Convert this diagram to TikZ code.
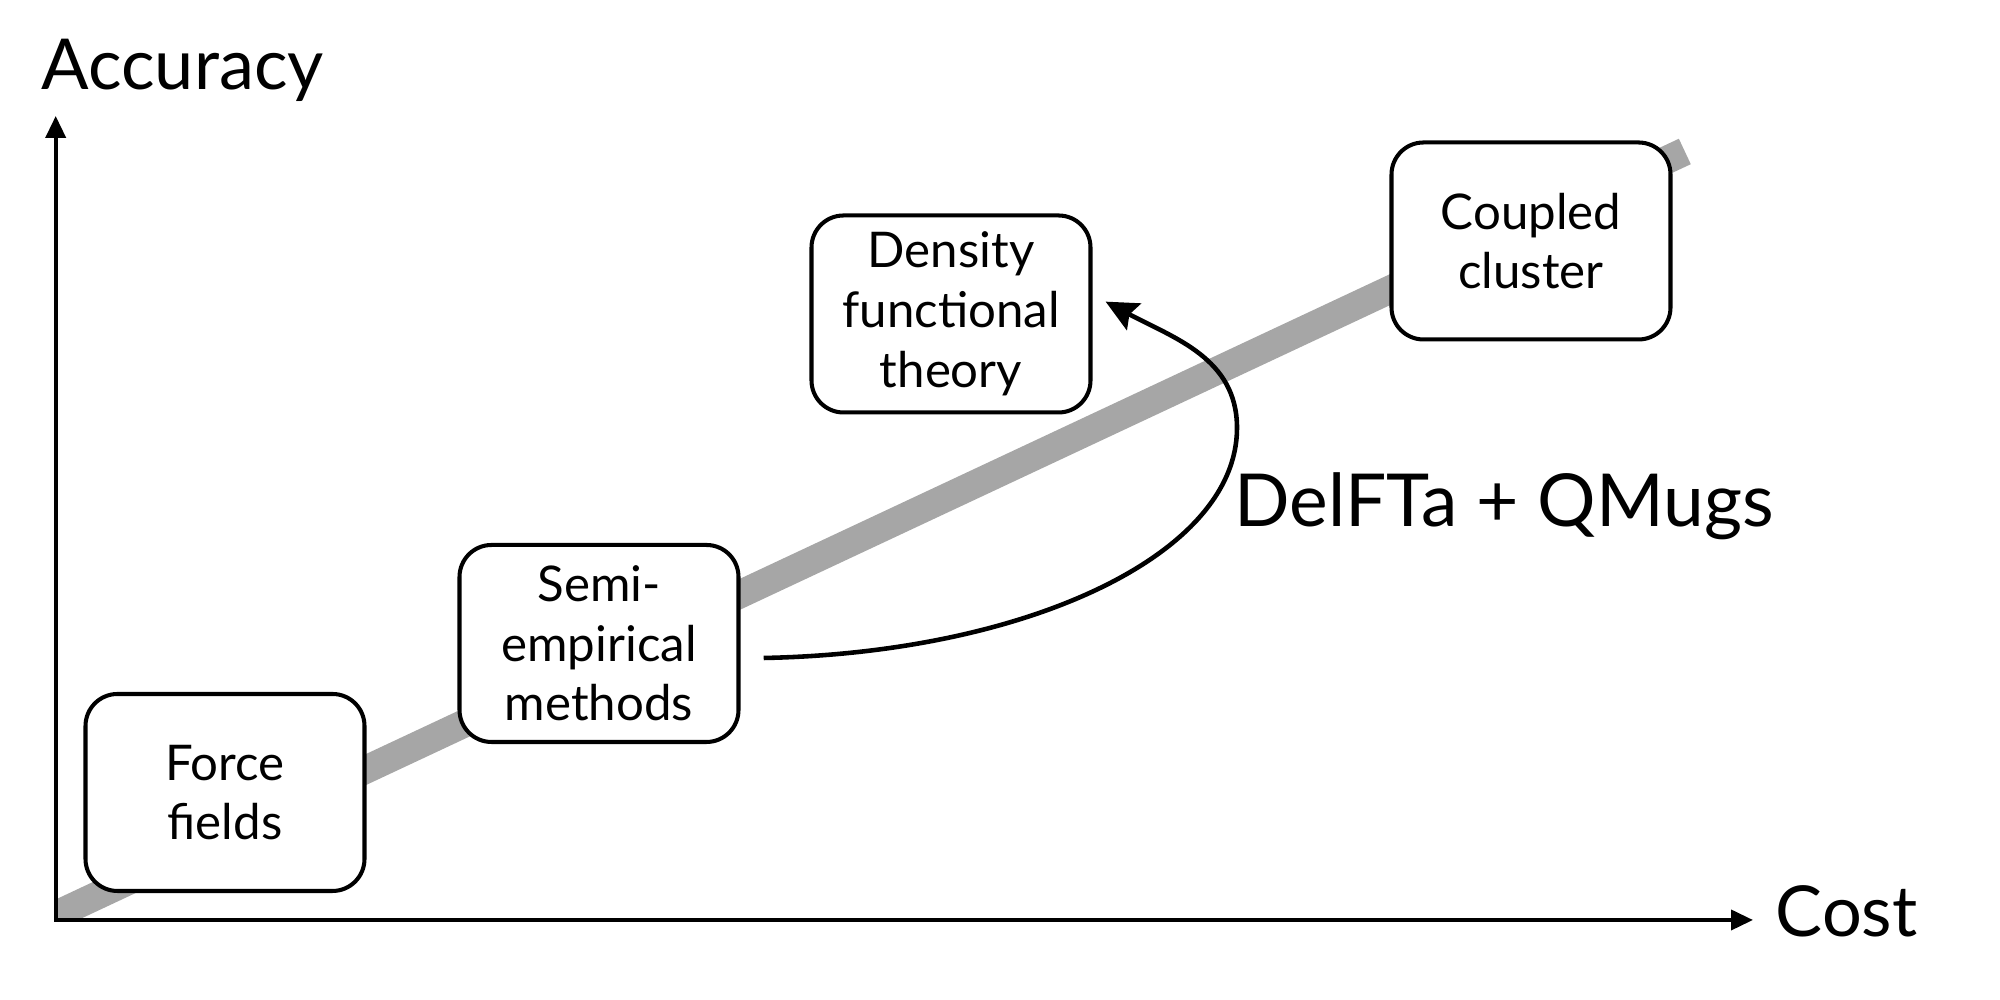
\documentclass[tikz,border=0pt]{standalone}
\usepackage{fontspec}
\setmainfont{Lato}
\usepackage{tikz}
\usetikzlibrary{arrows.meta}
\definecolor{cgray}{rgb}{0.65, 0.65, 0.65}

\begin{document}
\begin{tikzpicture}[shorten >=1pt,
  method node/.style={draw,rounded corners=0.32cm,line width=1.15pt,fill=white,align=center,
    minimum width=2.79cm,minimum height=1.97cm,inner sep=0pt,font=\fontsize{14}{17}\selectfont},
  axis label/.style={anchor=base west,inner sep=0pt,font=\fontsize{20}{24}\selectfont},
  axis tip/.tip={Triangle[length=2.2mm,width=2mm]},
  fit tip/.tip={Stealth[length=3.2mm,width=3mm,inset=0.5mm]}]
  \useasboundingbox (0,0) rectangle (20,10);
  \coordinate (o) at (0.557,0.80);
  \coordinate (ytop) at (0.557,8.84);
  \coordinate (xend) at (17.53,0.80);
  \coordinate (low) at (0.557,0.85);
  \coordinate (high) at (16.88,8.50);

  % trend line
  \begin{scope}
    \clip (o) rectangle (20,10);
    \draw[line width=8pt,cgray] (low) -- (high);
  \end{scope}

  % axes
  \draw[axis tip-axis tip,line width=1.1pt,shorten >=0pt] (ytop) |- (xend);
  \node[axis label] (acc) at (0.41,9.107) {Accuracy};
  \node[axis label] (cost) at (17.75,0.63) {Cost};

  \node[method node] (ff) at (2.25,2.075) {Force\\fields};
  \node[method node] (semi) at (5.99,3.565) {Semi-\\empirical\\methods};
  \node[method node] (dft) at (9.51,6.86) {Density\\functional\\theory};
  \node[method node] (cc) at (15.31,7.59) {Coupled\\cluster};

  \coordinate (bend) at (12.37,5.72);
  \draw[-fit tip,line width=1.3pt]
    ([xshift=0.232cm,yshift=-0.145cm]semi.east)
    .. controls +(2.62,0.05) and +(0,-1.27) .. (bend)
    .. controls +(0,0.70) and +(0.71,-0.38) .. ([xshift=0.10cm,yshift=0.14cm]dft.east);
  \node[axis label,font=\fontsize{20.8}{25}\selectfont] (delfta) at (12.34,4.73) {DelFTa + QMugs};
\end{tikzpicture}
\end{document}
